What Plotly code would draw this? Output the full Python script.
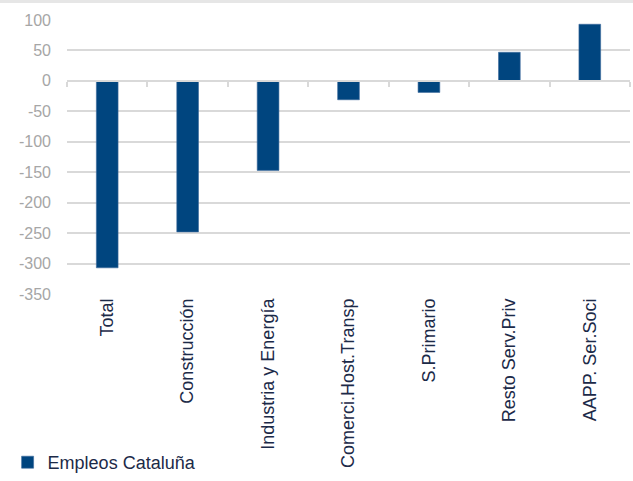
import plotly.graph_objects as go

categories = ["Total", "Construcción", "Industria y Energía", "Comerci.Host.Transp",
              "S.Primario", "Resto Serv.Priv", "AAPP. Ser.Soci"]
values = [-307, -248, -147, -31, -19, 47, 93]
series_name = "Empleos Cataluña"
y_ticks = [100, 50, 0, -50, -100, -150, -200, -250, -300, -350]
y_ticktext = ["100", "50", "0", "-50", "-100", "-150", "-200", "-250", "-300", "-350"]

BAR = "#00457f"
GRID = "#d9d9d9"
NAVY = "#1c2a48"
FONT = "Liberation Sans, Arial, sans-serif"

fig = go.Figure()
fig.add_trace(go.Bar(
    x=categories, y=values, name=series_name,
    marker=dict(color=BAR, line=dict(color="#3c6a9c", width=0.6)),
    width=0.27,
))
# helper trace (no marks) to bind the zero-line axis
fig.add_trace(go.Bar(
    x=categories, y=[None] * len(categories), xaxis="x2",
    showlegend=False, hoverinfo="skip",
))

fig.update_layout(
    width=633, height=481,
    margin=dict(l=67, r=3, t=20, b=187),
    paper_bgcolor="white", plot_bgcolor="white",
    font=dict(family=FONT, color=NAVY),
    bargap=0.73,
    xaxis=dict(
        type="category", categoryarray=categories, range=[-0.5, 6.5],
        showline=False, showgrid=False, zeroline=False, automargin=False,
        tickangle=-90, ticks="", tickfont=dict(size=18, color=NAVY, family=FONT),
    ),
    xaxis2=dict(
        type="category", categoryarray=categories, range=[-0.5, 6.5],
        overlaying="x", anchor="free", position=350 / 450, automargin=False,
        showline=True, linecolor=GRID, linewidth=1.5,
        ticks="outside", ticklen=5, tickcolor=GRID, tickwidth=1.5,
        tickson="boundaries", showticklabels=False, showgrid=False, zeroline=False,
    ),
    yaxis=dict(
        range=[-350, 100], tickvals=y_ticks, ticktext=y_ticktext,
        showgrid=True, gridcolor=GRID, gridwidth=1.5, automargin=False,
        zeroline=False, showline=False,
        tickfont=dict(size=16, color="#a6a6a6", family=FONT),
        ticklabelstandoff=15,
    ),
    showlegend=True,
    legend=dict(
        orientation="h", xref="container", x=0.012, xanchor="left",
        yref="container", y=0, yanchor="bottom",
        font=dict(size=18, color=NAVY, family=FONT),
        bgcolor="rgba(0,0,0,0)", tracegroupgap=0,
    ),
    shapes=[dict(
        type="rect", xref="paper", yref="paper",
        x0=-0.2, x1=1.1, y0=1 + 17 / 274, y1=1 + 21 / 274,
        fillcolor="#e6e6e6", line=dict(width=0), layer="below",
    )],
)

fig.write_html("out.html")
